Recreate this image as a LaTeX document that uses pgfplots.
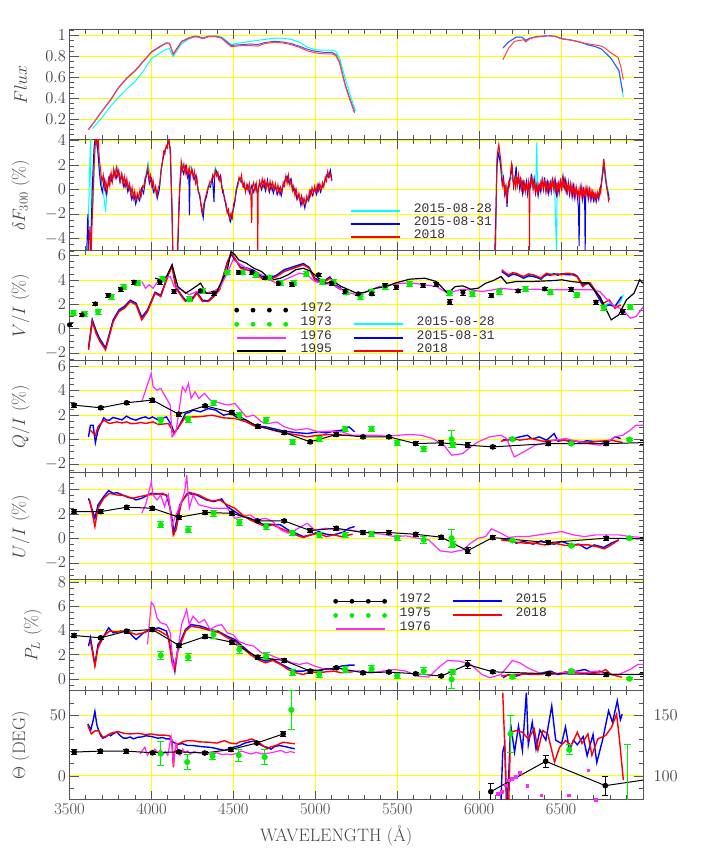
\RequirePackage{fix-cm}
\documentclass[border=0pt]{standalone}
\usepackage{fontspec}
\usepackage{pgfplots}
\pgfplotsset{compat=1.18}
\newfontfamily\legfont{Liberation Mono}
\definecolor{gridyellow}{RGB}{255,255,0}
\definecolor{framegray}{RGB}{85,85,85}
\definecolor{labgray}{RGB}{70,70,70}
\definecolor{legtext}{RGB}{50,50,50}
\definecolor{mycyan}{RGB}{0,255,255}
\definecolor{myblue}{RGB}{0,0,255}
\definecolor{myred}{RGB}{255,0,0}
\definecolor{mymag}{RGB}{255,40,255}
\definecolor{mygreen}{RGB}{0,240,0}
\pgfplotsset{
  panel/.style={
    scale only axis, width=573.5pt,
    xmin=3500, xmax=7000,
    xtick={3500,4000,...,7000},
    minor xtick={3600,3700,...,6900},
    xticklabels={},
    xmajorgrids, ymajorgrids,
    major grid style={gridyellow, line width=0.9pt},
    tick align=inside, tick pos=both,
    major tick length=9pt, minor tick length=4.5pt,
    tick style={framegray, line width=0.8pt},
    axis line style={framegray, line width=1pt},
    tick label style={font=\fontsize{16.5}{19}\selectfont, text=labgray},
    ylabel style={font=\fontsize{18}{21}\selectfont, text=labgray, at={(axis description cs:-0.085,0.5)}, anchor=center},
    legend cell align=left,
  },
  legline/.style={legend image code/.code={\draw[##1, line width=1.6pt] (0pt,-2.5pt) -- (49pt,-2.5pt); \path[draw=none, fill=none] (0pt,0pt) -- (63pt,0pt);}},
  legdots/.style={legend image code/.code={\foreach \p in {0,16.33,32.67,49}{\path[fill=#1, draw=none] (\p pt,-3pt) circle (2.4pt);} \path[draw=none, fill=none] (0pt,0pt) -- (64pt,0pt);}},
  leglinedots/.style={legend image code/.code={\draw[#1, line width=1.2pt] (0pt,-3pt) -- (49pt,-3pt); \foreach \p in {0,16.33,32.67,49}{\path[fill=#1, draw=none] (\p pt,-3pt) circle (2.4pt);} \path[draw=none, fill=none] (0pt,0pt) -- (64pt,0pt);}},
  mylegend/.style={legend style={draw=none, fill=none, inner sep=0pt, font=\legfont\fontsize{13}{13}\selectfont, text=legtext, row sep=4.5pt, nodes={inner sep=0pt, text height=8.5pt, text depth=0pt}, /tikz/every even column/.append style={column sep=21pt}}},
  blackpts/.style={only marks, mark=*, mark size=2.3pt, black, error bars/y dir=both, error bars/y explicit, error bars/error bar style={black, line width=0.8pt}, error bars/error mark options={rotate=90, black, mark size=3pt, line width=0.8pt}},
  blackline/.style={black, line width=1pt, mark=*, mark size=2.3pt, error bars/y dir=both, error bars/y explicit, error bars/error bar style={black, line width=0.8pt}, error bars/error mark options={rotate=90, black, mark size=3pt, line width=0.8pt}},
  greenpts/.style={only marks, mark=*, mark size=2.8pt, mark options={fill=mygreen, draw=mygreen}, error bars/y dir=both, error bars/y explicit, error bars/error bar style={mygreen, line width=0.9pt}, error bars/error mark options={rotate=90, mygreen, mark size=3.5pt, line width=0.9pt}},
}
\begin{document}
\begin{tikzpicture}
\path (0pt,0pt) rectangle (707pt,861pt);
% ================= Panel 1: Flux
\begin{axis}[panel, at={(69.5pt,721pt)}, anchor=south west, height=110pt,
  ymin=0, ymax=1.054, ytick={0.2,0.4,0.6,0.8,1}, minor ytick={0.05,0.1,...,1.05},
  ylabel={$Flux$}]
\addplot[mycyan, line width=1pt] coordinates {(3640,0.11) (3700,0.22) (3750,0.32) (3800,0.41) (3850,0.49) (3900,0.56) (3950,0.66) (4000,0.78) (4050,0.83) (4092,0.87) (4110,0.875) (4125,0.82) (4133,0.80) (4150,0.84) (4184,0.92) (4230,0.97) (4266,0.99) (4290,0.985) (4320,0.975) (4350,0.99) (4400,0.995) (4430,0.985) (4460,0.945) (4490,0.915) (4520,0.925) (4560,0.935) (4600,0.945) (4650,0.955) (4700,0.965) (4750,0.975) (4800,0.975) (4850,0.965) (4900,0.94) (4950,0.89) (5000,0.865) (5050,0.86) (5100,0.86) (5125,0.85) (5150,0.78) (5170,0.66) (5190,0.55) (5215,0.42) (5245,0.28)};
\addplot[mycyan, line width=1pt] coordinates {(6145,0.88) (6180,0.94) (6226,0.985) (6261,0.985) (6284,0.955) (6310,0.975) (6350,0.99) (6423,1.0) (6470,0.99) (6504,0.97) (6550,0.96) (6597,0.945) (6640,0.925) (6667,0.91) (6710,0.895) (6748,0.87) (6780,0.82) (6806,0.78) (6830,0.72) (6853,0.66) (6880,0.41)};
\addplot[myblue!70!white, line width=1pt] coordinates {(3616,0.10) (3650,0.17) (3700,0.28) (3750,0.385) (3800,0.505) (3850,0.595) (3900,0.665) (3950,0.755) (4000,0.845) (4050,0.895) (4092,0.93) (4110,0.925) (4125,0.86) (4133,0.825) (4150,0.865) (4184,0.945) (4230,0.98) (4266,0.995) (4290,0.99) (4312,0.975) (4347,0.995) (4393,0.995) (4428,0.98) (4460,0.94) (4486,0.905) (4520,0.91) (4560,0.915) (4600,0.92) (4649,0.915) (4695,0.935) (4750,0.945) (4800,0.94) (4850,0.925) (4900,0.90) (4950,0.87) (5000,0.85) (5050,0.84) (5100,0.84) (5125,0.82) (5148,0.75) (5165,0.64) (5183,0.53) (5210,0.40) (5240,0.27)};
\addplot[myblue!70!white, line width=1pt] coordinates {(6145,0.88) (6180,0.94) (6226,0.985) (6261,0.985) (6284,0.955) (6310,0.975) (6350,0.99) (6423,1.0) (6470,0.99) (6504,0.97) (6550,0.96) (6597,0.945) (6640,0.925) (6667,0.91) (6710,0.895) (6748,0.87) (6780,0.82) (6806,0.78) (6830,0.72) (6853,0.67) (6876,0.46)};
\addplot[myred!75!white, line width=1pt] coordinates {(3616,0.10) (3650,0.17) (3700,0.28) (3750,0.38) (3800,0.50) (3850,0.59) (3900,0.66) (3950,0.75) (4000,0.84) (4050,0.89) (4092,0.93) (4110,0.925) (4125,0.86) (4133,0.82) (4150,0.86) (4184,0.94) (4230,0.975) (4266,0.99) (4290,0.985) (4312,0.97) (4347,0.99) (4393,0.99) (4428,0.975) (4460,0.93) (4486,0.895) (4520,0.90) (4560,0.905) (4600,0.905) (4649,0.90) (4695,0.925) (4750,0.935) (4800,0.93) (4850,0.915) (4900,0.89) (4950,0.855) (5000,0.835) (5050,0.825) (5100,0.825) (5125,0.81) (5148,0.74) (5165,0.63) (5183,0.52) (5210,0.39) (5240,0.26)};
\addplot[myred!75!white, line width=1pt] coordinates {(6145,0.77) (6180,0.88) (6215,0.945) (6250,0.955) (6273,0.96) (6284,0.94) (6310,0.97) (6342,0.985) (6423,1.0) (6470,0.99) (6504,0.97) (6550,0.96) (6600,0.945) (6650,0.925) (6690,0.915) (6730,0.905) (6760,0.89) (6800,0.84) (6848,0.79) (6865,0.70) (6880,0.58)};
\end{axis}
% ================= Panel 2: delta F
\begin{axis}[panel, at={(69.5pt,610pt)}, anchor=south west, height=111pt,
  ymin=-5, ymax=4.05, ytick={-4,-2,0,2,4}, minor ytick={-5,-4.5,...,4}, ylabel={$\delta F_{300}$\ (\%)},
  mylegend, legend style={at={(axis description cs:0.489,0.425)}, anchor=north west}]
\addplot[mycyan, line width=1pt, forget plot] coordinates {(3610,-5.2) (3622,1) (3628,4.2) (3634,-3) (3645,-1) (3655,3.5) (3665,4.0) (3680,2.0) (3695,0.5) (3710,-0.6) (3720,-1.8) (3730,0.2) (3750,1.0) (3770,1.3) (3790,1.9) (3810,0.8) (3830,0.9) (3850,0.3) (3870,-0.2) (3890,-0.6) (3910,-1.0) (3930,-0.6) (3950,0.2) (3970,1.5) (3980,2.2) (3995,0.8) (4010,0.5) (4030,-0.5) (4050,0.2) (4070,2.6) (4090,3.4) (4104,4.0) (4115,3.4) (4124,-1.0) (4130,-5.2) (4160,-5.2) (4170,-0.5) (4182,2.3) (4200,1.7) (4220,1.4) (4240,1.9) (4260,1.0) (4280,0.4) (4300,-1.0) (4315,-2.0) (4330,-0.8) (4350,0.5) (4370,0.8) (4390,1.8) (4410,1.1) (4430,0.4) (4450,-1.0) (4470,-1.8) (4486,-2.5) (4500,-1.5) (4520,0.3) (4540,1.0) (4560,0.5) (4580,0.3) (4600,0.0) (4620,0.5) (4640,0.1) (4660,0.3) (4680,0.8) (4700,0.2) (4720,0.5) (4740,0.1) (4760,0.3) (4780,-0.3) (4800,0.2) (4820,1.0) (4840,0.9) (4860,0.2) (4880,-0.4) (4900,-0.7) (4920,-1.0) (4940,-1.3) (4960,-0.5) (4980,-0.2) (5000,-0.1) (5020,0.2) (5040,0.1) (5060,0.8) (5080,1.3) (5101,1.0)};
\addplot[mycyan, line width=1pt, forget plot] coordinates {(6100,-5.2) (6106,0) (6112,2.2) (6122,3.3) (6135,2.0) (6150,0.6) (6165,-0.6) (6180,0.5) (6195,1.0) (6210,0.6) (6225,1.2) (6240,0.7) (6255,0.3) (6270,0.4) (6285,0.1) (6300,0.5) (6315,0.8) (6330,0.5) (6345,0.3) (6352,3.9) (6356,0.0) (6370,0.2) (6385,0.6) (6400,0.4) (6415,0.7) (6430,0.2) (6445,0.8) (6460,0.5) (6472,-5.2) (6476,0.3) (6490,0.4) (6505,0.8) (6520,0.5) (6535,0.3) (6550,0.1) (6565,-0.2) (6580,0.1) (6600,-0.4) (6620,-0.2) (6640,-0.3) (6660,-0.2) (6680,-0.5) (6700,-0.4) (6720,-0.6) (6740,-0.2) (6755,1.2) (6765,2.0) (6780,0.4) (6794,-0.5)};
\addplot[myblue, line width=1pt, forget plot] coordinates {(3605,-5.2) (3612,-2) (3618,-5.2) (3628,-5.2) (3640,0.5) (3650,3.5) (3658,4.3) (3666,4.1) (3674,3.0) (3682,1.5) (3690,0.4) (3700,-0.2) (3712,0.8) (3724,-0.4) (3736,0.4) (3748,1.2) (3760,0.6) (3772,1.5) (3784,0.9) (3796,1.6) (3808,0.6) (3820,1.2) (3832,0.2) (3844,0.8) (3856,-0.2) (3868,0.3) (3880,-0.8) (3892,-0.3) (3904,-1.2) (3916,-0.5) (3928,-0.9) (3940,0.1) (3952,-0.3) (3964,0.8) (3976,1.6) (3988,0.5) (4000,0.9) (4012,-0.2) (4024,0.2) (4036,-0.7) (4048,0.0) (4060,1.7) (4072,2.6) (4084,3.3) (4096,3.6) (4106,4.1) (4114,3.3) (4120,0.8) (4126,-2.0) (4131,-5.2) (4160,-5.2) (4166,-2.5) (4174,0.3) (4184,2.0) (4196,1.3) (4208,1.9) (4220,1.0) (4228,1.6) (4232,-2.1) (4236,1.2) (4248,1.6) (4260,0.8) (4272,1.2) (4284,0.0) (4296,-0.6) (4308,-1.8) (4316,-2.3) (4324,-1.0) (4336,-0.6) (4348,0.3) (4360,0.2) (4372,1.0) (4382,-1.0) (4386,1.2) (4398,1.5) (4410,0.9) (4422,1.2) (4434,-0.2) (4446,-0.6) (4458,-1.6) (4470,-2.0) (4482,-2.6) (4492,-2.0) (4504,-1.4) (4516,-0.3) (4528,0.6) (4540,0.9) (4552,0.6) (4564,0.2) (4576,0.0) (4588,0.4) (4600,-0.3) (4612,0.3) (4624,-0.2) (4636,0.4) (4648,-0.4) (4660,0.6) (4672,0.0) (4684,0.6) (4696,-0.1) (4708,0.8) (4720,-0.2) (4732,0.4) (4744,-0.3) (4756,0.3) (4768,-0.4) (4780,0.1) (4792,-0.5) (4804,0.3) (4816,0.8) (4828,1.1) (4840,0.5) (4852,0.9) (4864,-0.1) (4876,0.1) (4888,-0.8) (4900,-0.4) (4912,-1.3) (4924,-0.7) (4936,-1.5) (4948,-0.7) (4960,-0.9) (4972,-0.1) (4984,-0.5) (4996,0.1) (5008,-0.4) (5020,0.4) (5032,-0.2) (5044,0.3) (5056,0.5) (5068,1.2) (5080,1.0) (5092,1.6) (5101,0.8)};
\addplot[myblue, line width=1pt, forget plot] coordinates {(6095,-5.2) (6102,-2) (6108,1.8) (6116,3.0) (6124,2.6) (6132,1.8) (6140,0.5) (6148,1.0) (6156,-0.4) (6164,0.2) (6170,-1.4) (6178,0.2) (6186,0.8) (6194,1.2) (6202,1.8) (6210,0.2) (6218,0.8) (6226,1.9) (6232,0.3) (6240,1.0) (6248,0.0) (6256,0.7) (6264,-0.3) (6272,0.6) (6280,0.0) (6288,0.7) (6296,-0.4) (6304,0.5) (6312,0.2) (6320,1.3) (6328,0.2) (6336,0.9) (6344,-0.3) (6352,0.4) (6360,-0.5) (6368,0.3) (6376,-0.2) (6384,0.8) (6392,0.0) (6400,1.0) (6408,-0.2) (6416,0.6) (6424,-0.3) (6432,0.5) (6440,-0.2) (6448,1.0) (6456,0.0) (6464,0.8) (6472,-0.4) (6480,0.4) (6488,-0.3) (6496,0.9) (6504,-0.1) (6512,1.1) (6520,0.2) (6528,0.8) (6536,-0.4) (6544,0.6) (6552,-0.4) (6560,0.4) (6568,-0.6) (6576,0.3) (6584,-0.7) (6592,0.2) (6600,-0.6) (6606,-1.5) (6610,-4.6) (6614,-0.5) (6622,0.3) (6630,-0.8) (6638,0.2) (6644,-1.0) (6647,-5.2) (6650,-0.6) (6658,0.1) (6666,-0.8) (6674,0.0) (6682,-0.9) (6690,-0.2) (6698,-0.9) (6706,-0.4) (6714,-1.0) (6722,-0.3) (6730,-0.8) (6738,0.1) (6746,0.5) (6754,1.3) (6762,2.2) (6770,1.0) (6778,0.2) (6786,-0.2) (6794,-0.8)};
\addplot[myred, line width=1pt, forget plot] coordinates {(3616,-5.2) (3625,-3) (3632,-5.2) (3642,-1) (3652,2.5) (3660,4.3) (3668,3.6) (3675,4.2) (3682,2.5) (3690,1.6) (3698,0.6) (3706,1.2) (3714,0.1) (3722,0.7) (3730,-0.1) (3738,0.9) (3746,0.3) (3754,1.4) (3762,0.7) (3770,1.7) (3778,1.0) (3786,1.8) (3794,1.1) (3802,1.5) (3810,0.7) (3818,1.3) (3826,0.5) (3834,1.1) (3842,0.3) (3850,0.9) (3858,0.1) (3866,0.5) (3874,-0.4) (3882,0.2) (3890,-0.7) (3898,-0.1) (3906,-0.9) (3914,-0.3) (3922,-0.7) (3930,0.0) (3938,-0.5) (3946,0.3) (3954,0.2) (3962,1.0) (3970,1.2) (3978,1.9) (3986,0.8) (3994,1.2) (4002,0.3) (4010,0.8) (4018,-0.1) (4026,0.3) (4034,-0.5) (4042,0.2) (4050,0.4) (4058,1.5) (4066,2.2) (4074,3.1) (4082,2.9) (4090,3.6) (4098,3.4) (4104,4.1) (4110,3.7) (4116,3.2) (4121,0.5) (4126,-1.5) (4130,-5.2) (4158,-5.2) (4163,-3.5) (4168,-1.0) (4175,0.8) (4182,2.3) (4190,1.6) (4198,2.1) (4206,1.3) (4214,1.9) (4222,1.2) (4230,1.8) (4238,1.1) (4246,1.7) (4254,1.0) (4262,1.5) (4270,0.5) (4278,0.9) (4286,-0.2) (4294,-0.3) (4302,-1.2) (4310,-1.9) (4318,-1.3) (4326,-0.8) (4334,-0.4) (4342,0.0) (4350,0.2) (4358,0.7) (4366,0.6) (4374,1.2) (4382,0.9) (4390,1.6) (4398,1.1) (4406,1.4) (4414,0.7) (4422,1.0) (4430,0.1) (4438,0.0) (4446,-0.9) (4454,-1.0) (4462,-1.9) (4470,-1.6) (4478,-2.4) (4486,-1.9) (4494,-2.3) (4502,-1.1) (4510,-1.0) (4518,0.1) (4526,0.2) (4534,1.0) (4542,0.7) (4550,1.2) (4558,0.3) (4566,0.6) (4574,-0.2) (4582,0.4) (4590,-0.1) (4598,0.5) (4606,-0.2) (4612,-2.7) (4616,0.2) (4624,0.6) (4632,-0.1) (4640,0.5) (4646,-0.3) (4649,-5.2) (4652,0.0) (4660,0.7) (4668,0.2) (4676,0.9) (4684,0.3) (4692,0.8) (4700,0.1) (4708,0.6) (4716,0.0) (4724,0.7) (4732,0.1) (4740,0.6) (4748,0.0) (4756,0.5) (4764,-0.2) (4772,0.4) (4780,-0.3) (4788,0.2) (4796,-0.2) (4804,0.6) (4812,0.3) (4820,1.1) (4828,0.5) (4836,1.2) (4844,0.4) (4852,0.7) (4860,-0.1) (4868,0.3) (4876,-0.5) (4884,0.0) (4892,-0.7) (4900,-0.3) (4908,-1.0) (4916,-0.5) (4924,-1.2) (4932,-0.7) (4940,-1.2) (4948,-0.5) (4956,-0.9) (4964,-0.1) (4972,-0.5) (4980,0.2) (4988,-0.3) (4996,0.3) (5004,-0.2) (5012,0.4) (5020,-0.1) (5028,0.5) (5036,0.0) (5044,0.6) (5052,0.2) (5060,1.0) (5068,0.7) (5076,1.5) (5084,1.0) (5092,1.3) (5101,0.7)};
\addplot[myred, line width=1pt, forget plot] coordinates {(6099,-5.2) (6104,-1) (6108,2.5) (6114,3.2) (6120,3.7) (6126,3.0) (6132,2.4) (6138,1.0) (6144,0.3) (6150,0.8) (6156,-0.2) (6162,0.4) (6168,-1.1) (6174,0.1) (6180,0.6) (6186,0.3) (6192,1.5) (6198,2.1) (6204,1.2) (6210,0.4) (6216,0.9) (6222,0.2) (6228,1.0) (6234,0.4) (6240,1.2) (6246,0.5) (6252,0.9) (6258,0.1) (6264,0.6) (6270,-0.1) (6276,0.5) (6282,-0.2) (6288,0.4) (6294,0.0) (6300,0.7) (6305,0.2) (6307,-5.2) (6310,0.3) (6316,1.0) (6322,0.4) (6328,0.8) (6334,0.0) (6340,0.6) (6346,-0.2) (6352,0.3) (6358,-0.3) (6364,0.4) (6370,0.0) (6376,0.6) (6382,0.1) (6388,0.8) (6394,0.2) (6400,0.7) (6406,0.0) (6412,0.5) (6418,-0.1) (6424,0.5) (6430,0.0) (6436,0.6) (6442,0.1) (6448,0.8) (6454,0.2) (6460,0.7) (6466,-0.1) (6472,0.4) (6478,-0.3) (6484,0.5) (6490,0.0) (6496,0.7) (6502,0.1) (6508,0.9) (6514,0.3) (6520,0.8) (6526,0.0) (6532,0.5) (6538,-0.2) (6544,0.4) (6550,-0.1) (6556,0.5) (6562,-0.3) (6568,0.3) (6574,-0.4) (6580,0.2) (6586,-0.5) (6592,0.1) (6598,-0.4) (6604,0.0) (6610,-0.7) (6616,0.2) (6622,-0.5) (6628,0.1) (6634,-0.6) (6640,0.0) (6646,-0.5) (6652,0.2) (6658,-0.4) (6664,0.1) (6670,-0.6) (6676,0.0) (6682,-0.7) (6688,-0.1) (6694,-0.6) (6700,-0.2) (6706,-0.8) (6712,-0.3) (6718,-0.7) (6724,-0.2) (6730,-0.6) (6736,0.0) (6742,-0.3) (6748,0.8) (6754,1.6) (6760,2.5) (6766,1.7) (6772,0.9) (6778,0.3) (6784,-0.3) (6790,-0.9) (6794,-0.7)};
\addlegendimage{mycyan, legline}\addlegendentry{2015-08-28}
\addlegendimage{myblue, legline}\addlegendentry{2015-08-31}
\addlegendimage{myred, legline}\addlegendentry{2018}
\end{axis}
% ================= Panel 3: V/I
\begin{axis}[panel, at={(69.5pt,500pt)}, anchor=south west, height=110pt,
  ymin=-2.63, ymax=6.38, ytick={-2,0,2,4,6}, minor ytick={-2.5,-2,...,6}, ylabel={$V/I$ (\%)},
  mylegend, legend columns=2, legend style={at={(axis description cs:0.287,0.53)}, anchor=north west}]
\addplot[mycyan, line width=1.4pt, forget plot] coordinates {(3616,-1.6) (3639,0.7) (3662,-0.2) (3686,-0.9) (3720,-1.6) (3767,0.7) (3802,1.5) (3836,1.8) (3871,2.3) (3906,2.05) (3941,0.9) (3976,1.5) (4022,2.95) (4057,2.7) (4103,4.45) (4126,5.15) (4150,3.4) (4184,2.7) (4208,2.3) (4242,2.3) (4277,2.95) (4312,2.3) (4347,2.3) (4382,2.7) (4416,3.25) (4463,5.4) (4486,6.15) (4509,5.75) (4544,5.0) (4579,4.95) (4625,4.75) (4672,4.25) (4718,4.1) (4764,4.35) (4811,4.8) (4869,5.05) (4927,5.3) (4962,5.0) (4996,4.1) (5043,3.8) (5089,4.2) (5124,3.55) (5159,3.25)};
\addplot[mycyan, line width=1.4pt, forget plot] coordinates {(6138,4.75) (6180,4.35) (6226,4.5) (6272,4.2) (6330,4.35) (6377,4.1) (6412,4.5) (6458,4.5) (6504,4.5) (6551,4.5) (6597,4.3) (6632,3.55) (6678,3.75) (6713,3.0) (6760,1.9) (6794,2.1) (6829,1.8) (6860,2.2) (6880,2.8)};
\addplot[myblue, line width=1.4pt, forget plot] coordinates {(3616,-1.55) (3639,0.75) (3662,-0.15) (3686,-0.85) (3720,-1.55) (3767,0.75) (3802,1.55) (3836,1.85) (3871,2.35) (3906,2.1) (3941,0.95) (3976,1.55) (4022,3.0) (4057,2.75) (4103,4.5) (4126,5.2) (4150,3.4) (4184,2.75) (4208,2.35) (4242,2.35) (4277,3.0) (4312,2.35) (4347,2.3) (4382,2.75) (4416,3.3) (4463,5.45) (4486,6.1) (4509,5.7) (4544,5.05) (4579,5.0) (4625,4.8) (4672,4.3) (4718,4.15) (4764,4.4) (4811,4.85) (4869,5.1) (4927,5.35) (4962,5.05) (4996,4.15) (5043,3.85) (5089,4.25) (5124,3.6) (5159,3.3)};
\addplot[myblue, line width=1.4pt, forget plot] coordinates {(6138,4.70) (6160,4.5) (6180,4.29) (6205,4.5) (6226,4.43) (6250,4.3) (6272,4.15) (6300,4.35) (6330,4.29) (6355,4.2) (6377,4.07) (6395,4.3) (6412,4.43) (6435,4.4) (6458,4.51) (6480,4.4) (6504,4.51) (6528,4.45) (6551,4.43) (6575,4.5) (6597,4.34) (6632,3.61) (6655,3.8) (6678,3.74) (6713,2.92) (6760,1.83) (6794,1.97) (6829,1.83) (6869,2.65)};
\addplot[myred, line width=1.4pt, forget plot] coordinates {(3616,-1.72) (3639,0.60) (3662,-0.36) (3686,-1.04) (3720,-1.72) (3767,0.60) (3802,1.42) (3836,1.69) (3871,2.24) (3906,1.97) (3941,0.74) (3976,1.42) (4022,2.92) (4057,2.65) (4103,4.43) (4126,5.11) (4150,3.33) (4184,2.65) (4208,2.24) (4242,2.24) (4277,2.92) (4312,2.24) (4347,2.24) (4382,2.65) (4416,3.20) (4463,5.38) (4486,6.20) (4509,5.79) (4544,4.97) (4579,4.84) (4625,4.70) (4672,4.15) (4718,4.02) (4764,4.29) (4811,4.70) (4869,4.97) (4927,5.25) (4962,4.97) (4996,4.02) (5043,3.74) (5089,4.15) (5124,3.47) (5159,3.20)};
\addplot[myred, line width=1.4pt, forget plot] coordinates {(6138,4.84) (6160,4.6) (6180,4.43) (6205,4.6) (6226,4.56) (6250,4.4) (6272,4.29) (6300,4.5) (6330,4.43) (6355,4.3) (6377,4.15) (6395,4.4) (6412,4.56) (6435,4.45) (6458,4.43) (6480,4.5) (6504,4.43) (6528,4.55) (6551,4.56) (6575,4.4) (6597,4.29) (6632,3.47) (6655,3.7) (6678,3.74) (6713,3.06) (6760,2.10) (6794,2.38) (6829,1.69) (6864,1.97)};
\addplot[mymag, line width=1.2pt, forget plot] coordinates {(3941,3.88) (3964,3.33) (3987,3.61) (4010,3.33) (4045,4.02) (4080,4.15) (4115,4.29) (4138,3.47) (4184,3.2) (4231,2.79) (4277,3.06) (4324,2.92) (4370,3.06) (4416,3.33) (4463,4.56) (4498,5.66) (4532,5.38) (4579,4.97) (4625,4.7) (4672,4.43) (4718,4.02) (4764,3.74) (4811,4.02) (4857,4.29) (4904,4.56) (4950,4.43) (4996,3.88) (5043,3.74) (5112,3.61) (5182,3.06) (5252,2.79) (5321,3.06) (5391,3.47) (5460,3.61) (5530,3.74) (5600,3.74) (5669,3.61) (5739,3.47) (5808,2.92) (5878,3.2) (5948,3.2) (6017,3.06) (6087,3.2) (6133,3.33) (6226,3.2) (6342,3.25) (6458,3.2) (6574,3.2) (6690,3.2) (6736,3.06) (6783,2.38) (6829,1.83) (6876,1.61) (6922,0.87) (6957,1.01) (7003,1.83)};
\addplot[black, line width=1.2pt, forget plot] coordinates {(4022,4.15) (4057,4.02) (4092,4.29) (4126,5.25) (4161,3.47) (4208,2.92) (4242,3.2) (4300,3.74) (4335,2.92) (4393,2.92) (4463,4.84) (4486,6.34) (4509,6.07) (4532,5.66) (4579,5.38) (4625,4.97) (4672,4.7) (4706,4.29) (4741,4.02) (4788,4.15) (4834,4.43) (4880,4.84) (4927,4.97) (4973,4.7) (5020,4.15) (5066,3.74) (5112,3.88) (5159,3.47) (5205,3.2) (5252,2.92) (5298,2.98) (5368,3.33) (5437,3.47) (5484,3.74) (5576,4.07) (5669,4.15) (5739,3.88) (5808,2.92) (5855,3.47) (5901,3.52) (5948,3.25) (5994,3.33) (6040,3.74) (6087,3.96) (6133,4.29) (6168,3.74) (6226,3.88) (6319,3.88) (6458,3.96) (6504,4.02) (6562,3.88) (6667,3.74) (6736,2.65) (6806,0.74) (6852,1.15) (6899,2.38) (6945,2.92) (6980,4.02) (7000,3.74)};
\addplot[forget plot, greenpts] coordinates {(3523,1.28) +- (0,0.2) (3593,1.23) +- (0,0.2) (3674,1.42) +- (0,0.2) (3755,2.65) +- (0,0.2) (3832,3.42) +- (0,0.2) (3918,3.74) +- (0,0.2) (4068,4.07) +- (0,0.2) (4231,2.43) +- (0,0.2) (4312,3.14) +- (0,0.2) (4463,4.62) +- (0,0.2) (4556,4.62) +- (0,0.2) (4637,4.43) +- (0,0.2) (4718,4.21) +- (0,0.2) (4788,3.74) +- (0,0.2) (4869,3.74) +- (0,0.2) (4945,4.48) +- (0,0.2) (5043,3.88) +- (0,0.2) (5112,3.83) +- (0,0.2) (5189,2.98) +- (0,0.2) (5275,2.65) +- (0,0.2) (5344,3.06) +- (0,0.2) (5426,3.42) +- (0,0.2) (5576,3.66) +- (0,0.2) (5820,2.92) +- (0,0.2) (5959,2.87) +- (0,0.2) (6122,3.06) +- (0,0.2) (6284,3.25) +- (0,0.2) (6435,3.0) +- (0,0.2) (6597,2.79) +- (0,0.2) (6760,1.75) +- (0,0.2) (6922,1.78) +- (0,0.2)};
\addplot[forget plot, blackpts] coordinates {(3500,0.33) +- (0,0.15) (3577,1.15) +- (0,0.15) (3658,2.05) +- (0,0.15) (3737,2.73) +- (0,0.15) (3813,3.25) +- (0,0.15) (3894,3.83) +- (0,0.15) (4052,3.83) +- (0,0.15) (4138,3.06) +- (0,0.15) (4300,3.11) +- (0,0.15) (4382,2.92) +- (0,0.15) (4532,4.62) +- (0,0.15) (4614,4.62) +- (0,0.15) (4695,4.18) +- (0,0.15) (4776,3.72) +- (0,0.15) (4857,3.66) +- (0,0.15) (5020,4.43) +- (0,0.15) (5101,3.74) +- (0,0.15) (5182,3.06) +- (0,0.15) (5263,2.87) +- (0,0.15) (5344,2.87) +- (0,0.15) (5426,3.55) +- (0,0.15) (5495,3.42) +- (0,0.15) (5658,3.55) +- (0,0.15) (5739,3.66) +- (0,0.15) (5820,2.19) +- (0,0.2) (5901,2.98) +- (0,0.2) (6075,2.73) +- (0,0.15) (6238,3.11) +- (0,0.15) (6400,3.28) +- (0,0.15) (6562,3.25) +- (0,0.15) (6713,2.19) +- (0,0.15) (6876,1.42) +- (0,0.2)};
\addlegendimage{legdots=black}\addlegendentry{1972}
\addlegendimage{empty legend}\addlegendentry{}
\addlegendimage{legdots=mygreen}\addlegendentry{1973}
\addlegendimage{mycyan, legline}\addlegendentry{2015-08-28}
\addlegendimage{mymag, legline}\addlegendentry{1976}
\addlegendimage{myblue, legline}\addlegendentry{2015-08-31}
\addlegendimage{black, legline}\addlegendentry{1995}
\addlegendimage{myred, legline}\addlegendentry{2018}
\end{axis}
% ================= Panel 4: Q/I
\begin{axis}[panel, at={(69.5pt,388pt)}, anchor=south west, height=112pt,
  ymin=-2.73, ymax=6.41, ytick={-2,0,2,4,6}, minor ytick={-2.5,-2,...,6}, ylabel={$Q/I$ (\%)}]
\addplot[myblue, line width=1.4pt] coordinates {(3616,0.22) (3628,1.17) (3644,1.17) (3658,-0.25) (3674,0.76) (3709,1.77) (3725,1.6) (3744,1.58) (3765,1.8) (3790,1.72) (3820,1.6) (3848,1.91) (3875,1.7) (3906,1.58) (3935,1.75) (3964,1.85) (3985,1.7) (4006,1.85) (4045,1.58) (4070,1.75) (4092,1.85) (4122,1.17) (4138,0.57) (4161,0.90) (4208,2.13) (4230,2.2) (4254,2.40) (4300,2.26) (4347,2.53) (4393,2.40) (4415,2.2) (4440,1.99) (4486,2.13) (4532,1.72) (4579,1.58) (4625,1.17) (4660,1.1) (4695,1.04) (4741,0.90) (4811,0.68) (4880,0.57) (4950,0.49) (5020,0.63) (5066,0.54) (5112,0.68) (5159,0.76) (5205,1.04) (5240,0.63)};
\addplot[myblue, line width=1.4pt] coordinates {(6145,0.0) (6175,-0.05) (6203,0.08) (6249,0.22) (6296,0.35) (6319,0.08) (6340,0.1) (6365,0.22) (6412,-0.05) (6458,0.49) (6481,-0.14) (6515,-0.05) (6551,-0.14) (6585,-0.1) (6620,-0.25) (6655,-0.1) (6690,-0.14) (6736,-0.14) (6783,-0.25) (6829,0.22) (6864,0.08)};
\addplot[myred, line width=1.4pt] coordinates {(3628,0.76) (3658,0.35) (3674,1.04) (3709,1.58) (3744,1.31) (3790,1.44) (3820,1.35) (3848,1.44) (3875,1.3) (3906,1.31) (3935,1.4) (3964,1.31) (4010,1.44) (4045,1.23) (4103,1.31) (4122,0.90) (4138,0.49) (4173,1.17) (4208,1.85) (4277,1.85) (4320,1.9) (4370,1.99) (4440,1.77) (4509,1.72) (4579,1.44) (4625,1.12) (4695,0.95) (4764,0.68) (4834,0.49) (4904,0.35) (4950,0.22) (5020,0.35) (5089,0.41) (5159,0.35) (5205,0.35)};
\addplot[myred, line width=1.4pt] coordinates {(6133,-0.14) (6203,0.08) (6249,-0.05) (6319,0.08) (6388,-0.14) (6458,-0.05) (6528,-0.05) (6597,-0.14) (6667,-0.25) (6736,-0.14) (6806,-0.05) (6876,-0.25)};
\addplot[mymag, line width=1.2pt] coordinates {(3941,3.08) (3999,5.40) (4010,4.31) (4034,4.03) (4057,4.17) (4080,3.62) (4103,3.08) (4115,2.81) (4126,0.22) (4150,0.63) (4173,2.81) (4189,4.31) (4208,3.90) (4226,4.58) (4242,3.35) (4266,3.90) (4289,3.35) (4324,3.76) (4358,3.22) (4393,3.08) (4428,2.94) (4463,2.81) (4509,2.94) (4544,2.40) (4579,1.85) (4625,1.99) (4672,1.44) (4718,1.31) (4764,1.44) (4811,1.04) (4880,0.76) (4950,0.90) (5020,0.63) (5089,0.68) (5159,0.63) (5228,0.35) (5298,0.35) (5368,0.35) (5437,0.27) (5507,0.35) (5576,0.41) (5646,0.35) (5716,0.08) (5785,-0.46) (5832,-1.28) (5901,-1.14) (5948,-0.60) (5994,-0.19) (6064,0.22) (6133,0.35) (6168,0.08) (6214,-1.42) (6272,-1.01) (6342,-0.46) (6412,-0.25) (6458,-0.05) (6528,0.08) (6597,-0.14) (6667,-0.33) (6736,-0.46) (6783,-0.19) (6829,0.22) (6876,0.35) (6922,0.76) (6957,1.17) (7003,1.17)};
\addplot[blackline] coordinates {(3528,2.81) +- (0,0.15) (3690,2.59) +- (0,0.15) (3848,3.0) +- (0,0.15) (4006,3.22) +- (0,0.15) (4166,2.07) +- (0,0.15) (4328,2.75) +- (0,0.15) (4491,2.21) +- (0,0.15) (4648,1.09) +- (0,0.15) (4811,0.57) +- (0,0.15) (4969,-0.19) +- (0,0.15) (5129,0.41) +- (0,0.15) (5291,0.22) +- (0,0.15) (5449,0.22) +- (0,0.15) (5612,-0.33) +- (0,0.15) (5769,-0.27) +- (0,0.2) (5929,-0.46) +- (0,0.2) (6082,-0.6) +- (0,0.15) (6423,-0.33) +- (0,0.15) (6776,-0.33) +- (0,0.15) (7003,-0.25) +- (0,0.15)};
\addplot[greenpts] coordinates {(4057,1.58) +- (0,0.25) (4224,1.63) +- (0,0.25) (4379,3.0) +- (0,0.2) (4537,1.99) +- (0,0.25) (4700,1.58) +- (0,0.25) (4862,-0.19) +- (0,0.2) (5024,0.03) +- (0,0.2) (5182,0.84) +- (0,0.2) (5344,0.84) +- (0,0.2) (5500,-0.27) +- (0,0.2) (5662,-0.74) +- (0,0.2) (5832,0.03) +- (0,0.7) (5839,-0.41) +- (0,0.2) (6203,0.03) +- (0,0.1) (6562,-0.33) +- (0,0.1) (6917,0.0) +- (0,0.1)};
\end{axis}
% ================= Panel 5: U/I
\begin{axis}[panel, at={(69.5pt,281pt)}, anchor=south west, height=107pt,
  ymin=-3.39, ymax=5.36, ytick={-2,0,2,4}, minor ytick={-3,-2.5,...,5}, ylabel={$U/I$ (\%)}]
\addplot[myblue, line width=1.4pt] coordinates {(3616,3.29) (3655,1.66) (3674,2.75) (3709,3.43) (3739,3.92) (3767,3.70) (3790,3.75) (3813,3.62) (3835,3.5) (3860,3.35) (3885,3.3) (3906,3.16) (3941,3.29) (3970,3.5) (3999,3.70) (4045,3.65) (4092,3.56) (4119,2.20) (4138,0.44) (4173,2.75) (4219,3.70) (4277,3.56) (4335,3.16) (4382,3.02) (4428,3.24) (4463,2.61) (4509,2.20) (4556,1.80) (4602,1.66) (4648,1.31) (4695,1.12) (4741,1.17) (4788,1.12) (4834,0.71) (4880,0.44) (4927,0.16) (4973,0.30) (5020,0.57) (5066,0.35) (5112,0.30) (5170,0.52) (5205,0.84) (5240,0.98)};
\addplot[myblue, line width=1.4pt] coordinates {(6145,-0.11) (6191,0.03) (6226,-0.38) (6272,-0.24) (6330,-0.46) (6377,-0.19) (6423,-0.38) (6458,-0.46) (6504,-0.24) (6562,-0.52) (6609,-0.46) (6655,-0.84) (6702,-0.52) (6760,-0.73) (6806,-0.38) (6852,-0.11)};
\addplot[myred, line width=1.4pt] coordinates {(3623,3.16) (3655,0.98) (3674,2.48) (3709,3.29) (3744,3.70) (3790,3.56) (3836,3.51) (3883,3.29) (3929,3.43) (3976,3.56) (4022,3.62) (4068,3.70) (4103,3.43) (4119,1.93) (4133,0.30) (4150,0.71) (4184,3.02) (4231,3.78) (4289,3.56) (4335,3.24) (4370,3.07) (4416,3.16) (4463,2.75) (4509,2.48) (4556,1.93) (4602,1.52) (4648,1.25) (4695,0.98) (4741,1.12) (4788,0.84) (4834,0.57) (4880,0.30) (4927,0.08) (4973,0.30) (5020,0.44) (5066,0.16) (5112,0.30) (5159,0.16) (5228,0.35)};
\addplot[myred, line width=1.4pt] coordinates {(6133,-0.11) (6180,-0.19) (6226,-0.30) (6284,-0.38) (6342,-0.38) (6400,-0.52) (6458,-0.38) (6528,-0.57) (6597,-0.52) (6667,-0.52) (6713,-0.65) (6764,-0.84) (6806,-0.52) (6852,-0.11)};
\addplot[mymag, line width=1.2pt] coordinates {(3941,2.07) (3964,2.75) (3980,3.56) (3999,4.65) (4010,3.56) (4034,3.16) (4057,3.56) (4080,2.61) (4103,3.56) (4126,1.12) (4150,1.93) (4180,2.88) (4203,3.84) (4215,5.20) (4231,2.48) (4254,3.56) (4289,2.75) (4335,2.61) (4370,2.48) (4416,2.48) (4463,2.48) (4509,1.66) (4556,1.80) (4602,1.93) (4648,1.52) (4695,1.66) (4741,1.39) (4788,0.71) (4834,0.44) (4880,0.71) (4950,1.25) (4996,0.71) (5066,0.84) (5136,0.71) (5205,0.71) (5275,0.57) (5344,0.44) (5414,0.35) (5484,0.16) (5553,0.22) (5623,0.03) (5692,-0.11) (5762,-1.01) (5832,-1.12) (5901,-0.93) (5948,-0.38) (5994,0.03) (6040,0.16) (6075,0.79) (6133,0.44) (6180,0.08) (6226,0.16) (6296,0.16) (6365,0.30) (6435,0.44) (6504,0.57) (6574,0.30) (6644,0.16) (6713,0.30) (6783,0.30) (6852,0.30) (6922,0.16) (7003,0.08)};
\addplot[blackline] coordinates {(3528,2.2) +- (0,0.15) (3690,2.2) +- (0,0.15) (3848,2.56) +- (0,0.15) (4006,2.48) +- (0,0.15) (4168,1.74) +- (0,0.15) (4328,2.12) +- (0,0.15) (4491,2.07) +- (0,0.15) (4648,1.44) +- (0,0.15) (4811,1.44) +- (0,0.15) (4969,0.65) +- (0,0.15) (5129,0.84) +- (0,0.15) (5291,0.49) +- (0,0.15) (5449,0.49) +- (0,0.15) (5612,0.35) +- (0,0.15) (5769,0.11) +- (0,0.15) (5929,-1.0) +- (0,0.25) (6082,0.08) +- (0,0.15) (6423,-0.33) +- (0,0.15) (6776,0.03) +- (0,0.15) (7003,-0.03) +- (0,0.15)};
\addplot[greenpts] coordinates {(4057,1.12) +- (0,0.25) (4224,0.71) +- (0,0.25) (4379,2.07) +- (0,0.25) (4537,1.31) +- (0,0.25) (4700,0.98) +- (0,0.25) (4862,0.44) +- (0,0.2) (5024,0.3) +- (0,0.2) (5182,0.3) +- (0,0.2) (5344,0.38) +- (0,0.2) (5500,0.03) +- (0,0.2) (5662,-0.11) +- (0,0.3) (5832,0.03) +- (0,0.75) (5839,-0.44) +- (0,0.2) (6203,-0.16) +- (0,0.1) (6562,-0.57) +- (0,0.1) (6917,0.03) +- (0,0.1)};
\end{axis}
% ================= Panel 6: P_L
\begin{axis}[panel, at={(69.5pt,170pt)}, anchor=south west, height=111pt,
  ymin=-0.98, ymax=8.16, ytick={0,2,4,6,8}, minor ytick={-0.5,0,...,8}, ylabel={$P_L$ (\%)},
  ylabel style={at={(axis description cs:-0.064,0.5)}},
  mylegend, legend columns=2, legend style={at={(axis description cs:0.4595,0.875)}, anchor=north west}]
\addplot[myblue, line width=1.4pt, forget plot] coordinates {(3616,2.71) (3628,3.40) (3655,1.21) (3674,2.85) (3709,3.53) (3739,4.22) (3767,3.81) (3813,3.95) (3860,3.89) (3906,3.26) (3952,3.81) (3999,4.08) (4045,4.22) (4092,3.95) (4122,2.30) (4143,0.66) (4161,2.58) (4208,4.08) (4242,4.49) (4300,4.36) (4358,4.08) (4405,3.95) (4463,3.53) (4509,3.26) (4556,2.71) (4602,2.16) (4648,1.75) (4695,1.48) (4741,1.62) (4788,1.26) (4834,0.93) (4880,0.66) (4927,0.66) (4973,0.79) (5020,0.66) (5066,0.85) (5112,0.79) (5159,1.07) (5205,1.15) (5240,1.15)};
\addplot[myblue, line width=1.4pt, forget plot] coordinates {(6145,0.11) (6180,0.38) (6226,0.25) (6272,0.44) (6330,0.38) (6388,0.52) (6435,0.66) (6481,0.38) (6528,0.52) (6597,0.66) (6644,0.79) (6690,0.52) (6736,0.66) (6783,0.38) (6829,0.38) (6864,0.38)};
\addplot[myred, line width=1.4pt, forget plot] coordinates {(3628,3.12) (3655,1.07) (3674,2.58) (3709,3.53) (3744,3.95) (3790,3.89) (3848,3.95) (3906,3.67) (3952,3.81) (3999,4.16) (4045,4.00) (4103,3.53) (4126,1.34) (4143,0.79) (4161,2.30) (4208,3.95) (4242,4.36) (4300,4.22) (4358,4.00) (4416,3.81) (4463,3.40) (4509,3.12) (4556,2.58) (4602,2.03) (4648,1.62) (4695,1.34) (4741,1.53) (4788,1.21) (4834,0.79) (4880,0.52) (4927,0.38) (4973,0.60) (5020,0.52) (5066,0.60) (5112,0.66) (5159,0.52) (5228,0.60)};
\addplot[myred, line width=1.4pt, forget plot] coordinates {(6133,0.25) (6180,0.33) (6226,0.38) (6296,0.44) (6365,0.38) (6435,0.52) (6481,0.44) (6528,0.60) (6597,0.52) (6667,0.44) (6736,0.52) (6771,0.79) (6806,0.38) (6871,0.16)};
\addplot[mymag, line width=1.2pt, forget plot] coordinates {(3976,2.85) (3999,6.33) (4017,6.00) (4034,5.04) (4057,4.63) (4092,4.49) (4115,3.81) (4133,0.93) (4157,2.03) (4184,4.49) (4215,5.73) (4231,4.49) (4254,5.18) (4289,4.63) (4324,4.90) (4358,4.08) (4393,4.36) (4428,4.49) (4463,3.81) (4498,3.67) (4532,3.12) (4579,2.85) (4625,2.71) (4672,2.16) (4718,2.03) (4764,1.75) (4811,1.62) (4857,1.34) (4904,1.21) (4950,1.34) (4996,1.07) (5066,0.79) (5136,0.93) (5205,0.66) (5275,0.66) (5344,0.52) (5414,0.66) (5484,0.79) (5553,0.66) (5623,0.25) (5692,0.16) (5762,1.07) (5808,1.53) (5878,1.48) (5948,1.21) (6017,0.38) (6064,0.11) (6133,0.38) (6203,1.53) (6249,1.34) (6296,0.93) (6365,0.52) (6435,0.38) (6504,0.52) (6574,0.66) (6644,0.52) (6713,0.66) (6783,0.38) (6852,0.38) (6922,0.79) (6968,1.21) (7003,1.21)};
\addplot[forget plot, blackline] coordinates {(3528,3.59) +- (0,0.15) (3690,3.4) +- (0,0.15) (3848,3.95) +- (0,0.15) (4006,4.08) +- (0,0.15) (4168,2.77) +- (0,0.15) (4328,3.5) +- (0,0.15) (4491,3.04) +- (0,0.15) (4648,1.81) +- (0,0.15) (4811,1.53) +- (0,0.15) (4969,0.66) +- (0,0.15) (5129,0.93) +- (0,0.15) (5291,0.52) +- (0,0.15) (5449,0.58) +- (0,0.15) (5612,0.44) +- (0,0.15) (5769,0.25) +- (0,0.15) (5929,1.2) +- (0,0.3) (6082,0.6) +- (0,0.15) (6423,0.44) +- (0,0.15) (6776,0.38) +- (0,0.15) (7003,0.38) +- (0,0.15)};
\addplot[forget plot, greenpts] coordinates {(4057,1.95) +- (0,0.3) (4224,1.81) +- (0,0.3) (4379,3.67) +- (0,0.3) (4537,2.44) +- (0,0.3) (4700,1.89) +- (0,0.3) (4862,0.52) +- (0,0.25) (5024,0.38) +- (0,0.25) (5182,0.79) +- (0,0.25) (5344,0.85) +- (0,0.25) (5500,0.25) +- (0,0.2) (5662,0.66) +- (0,0.3) (5832,-0.03) +- (0,0.7) (5839,0.58) +- (0,0.2) (6203,0.19) +- (0,0.1) (6562,0.66) +- (0,0.1) (6917,0.03) +- (0,0.1)};
\addlegendimage{leglinedots=black}\addlegendentry{1972}
\addlegendimage{myblue, legline}\addlegendentry{2015}
\addlegendimage{legdots=mygreen}\addlegendentry{1975}
\addlegendimage{myred, legline}\addlegendentry{2018}
\addlegendimage{mymag, legline}\addlegendentry{1976}
\end{axis}
% ================= Panel 7: Theta (left axis)
\begin{axis}[panel, at={(69.5pt,61pt)}, anchor=south west, height=109pt,
  ymin=-19.8, ymax=69.8, ytick={0,50}, minor ytick={-10,10,20,30,40,60}, ylabel={$\Theta$ (DEG)},
  xticklabels={3500,4000,4500,5000,5500,6000,6500,{}},
  xlabel={WAVELENGTH (Å)},
  xlabel style={font=\fontsize{18}{21}\selectfont, text=labgray, at={(axis description cs:0.465,0)}, anchor=center, yshift=-36pt}]
\addplot[myblue, line width=1.4pt] coordinates {(3612,42.7) (3630,38) (3645,46) (3655,53) (3667,42) (3679,37) (3691,33) (3703,31) (3720,32) (3740,34) (3751,33) (3770,35) (3790,36) (3810,33) (3830,31) (3850,31) (3870,32) (3890,30.5) (3919,31.8) (3940,32) (3965,33) (3990,32.6) (4010,32) (4040,31) (4070,31.5) (4090,30.4) (4110,30.4) (4130,28) (4158,26) (4190,26.5) (4220,25) (4253,25) (4280,24.5) (4310,24) (4349,23.6) (4380,23) (4410,22) (4445,21) (4470,22) (4500,23.5) (4540,25) (4570,27) (4600,28) (4636,29) (4660,26) (4690,24) (4708,23.5) (4730,22) (4750,24) (4780,25) (4820,24) (4850,23) (4875,22.3)};
\addplot[myred, line width=1.4pt] coordinates {(3612,41.4) (3633,34.5) (3655,37) (3679,37) (3703,31.8) (3730,33) (3751,35) (3780,36) (3800,36.4) (3830,35) (3870,34.5) (3919,35) (3960,34) (4000,34.5) (4040,33.5) (4080,33.5) (4110,33) (4125,30) (4134,7) (4142,20) (4158,26) (4190,28) (4220,29) (4253,29) (4290,28) (4349,27.7) (4400,27) (4445,29) (4480,27) (4517,26.4) (4540,28) (4580,29) (4612,30.4) (4650,28) (4680,25) (4708,22.3) (4730,24) (4760,25) (4804,27.7) (4840,27) (4875,26.4)};
\addplot[mymag, line width=1.2pt] coordinates {(3930,18) (3945,21) (3960,23.6) (3975,17) (3990,20) (4005,18.5) (4020,22) (4040,19) (4055,21.5) (4070,18) (4085,20) (4100,17) (4112,26) (4120,32) (4128,20) (4134,11) (4140,16) (4150,27) (4160,22) (4175,17) (4190,22) (4205,19) (4220,20.5) (4240,18) (4260,20) (4290,19) (4320,19.5) (4350,18) (4373,18) (4400,19) (4430,17.5) (4460,18) (4490,17.4) (4520,18.5) (4550,20.5) (4580,19) (4610,18) (4640,19.5) (4670,18) (4700,18.5) (4730,19) (4760,20) (4790,21) (4820,19) (4850,20) (4875,19)};
\addplot[blackline] coordinates {(3529,19.6) +- (0,2) (3689,20.4) +- (0,1.5) (3847,20.4) +- (0,1.5) (4007,19.0) +- (0,1.5) (4167,19.8) +- (0,1.5) (4325,18.8) +- (0,1.5) (4485,21.7) +- (0,1.5) (4643,27) +- (0,1.5) (4804,34.5) +- (0,2)};
\addplot[greenpts] coordinates {(4057,18.2) +- (0,10) (4218,11.4) +- (0,6) (4373,16.3) +- (0,3) (4533,17) +- (0,5) (4691,15.5) +- (0,6) (4854,54.3) +- (0,16)};
\end{axis}
% ================= Panel 7: Theta (right axis, degrees)
\begin{axis}[scale only axis, width=573.5pt, height=109pt, at={(69.5pt,61pt)}, anchor=south west,
  xmin=3500, xmax=7000, ymin=80.2, ymax=169.8, hide x axis, axis y line*=right,
  y axis line style={draw=none}, ytick={100,150}, major tick length=0pt, minor tick length=0pt,
  yticklabel style={font=\fontsize{16.5}{19}\selectfont, text=labgray, xshift=7pt}]
\addplot[myblue, line width=1.4pt] coordinates {(6132,75) (6144,119.6) (6156,126) (6168,75) (6180,97.8) (6192,142.7) (6216,119.6) (6240,141) (6264,121) (6288,168.5) (6300,125.6) (6324,144) (6347,122) (6371,137.8) (6407,129.4) (6443,157.6) (6467,129.4) (6503,126.6) (6527,140.2) (6551,121) (6575,129.4) (6599,125.6) (6635,132.3) (6659,116.5) (6695,134) (6718,111) (6754,130) (6790,153.5) (6814,144) (6843,161.7) (6862,146.2) (6873,150.8)};
\addplot[myred, line width=1.4pt] coordinates {(6144,168.5) (6156,126) (6168,75) (6180,75) (6192,135.9) (6228,137.3) (6264,135.9) (6300,130.4) (6336,138.6) (6359,121) (6388,137.3) (6419,134.5) (6460,111.4) (6491,123.6) (6527,129) (6563,125) (6599,135.9) (6628,126.6) (6664,134.5) (6688,116.9) (6724,130.4) (6772,133.2) (6808,140) (6839,150.8) (6856,130.4) (6880,96.5)};
\addplot[only marks, mark=square*, mark size=1.3pt, mymag] coordinates {(6113,85.6) (6138,87) (6162,92.4) (6174,96.5) (6198,97.8) (6222,99.2) (6246,102.4) (6294,91.8) (6378,84.2) (6545,84.2) (6665,104.6) (6713,80.5)};
\addplot[blackline] coordinates {(6071,87) +- (0,7) (6406,112) +- (0,5) (6770,92) +- (0,8) (7100,98.5) +- (0,0)};
\addplot[greenpts] coordinates {(6191,134.5) +- (0,15) (6550,121.5) +- (0,4) (6908,72) +- (0,53.5)};
\end{axis}
\end{tikzpicture}
\end{document}
